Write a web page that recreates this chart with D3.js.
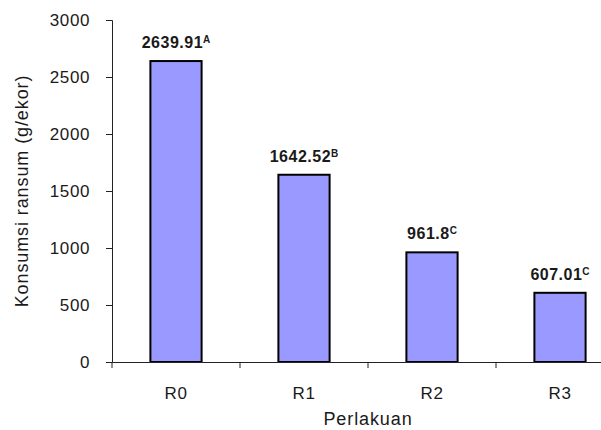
<!DOCTYPE html>
<html>
<head>
<meta charset="utf-8">
<script src="https://cdn.jsdelivr.net/npm/d3@7"></script>
<style>
  html, body { margin: 0; padding: 0; background: #fff; }
  svg { display: block; }
  text { font-family: Arial, "Liberation Sans", sans-serif; fill: #1a1a1a; }
</style>
</head>
<body>
<svg id="chart" width="601" height="430"></svg>
<script>
// Feed consumption per treatment
const categories = ["R0", "R1", "R2", "R3"];
const values = [2639.91, 1642.52, 961.8, 607.01];
const groups = ["A", "B", "C", "C"];
const yTicks = [0, 500, 1000, 1500, 2000, 2500, 3000];

const svg = d3.select("#chart");
const plotLeft = 112, plotBottom = 362, plotTop = 20;

const x = d3.scaleBand()
  .domain(categories)
  .range([plotLeft, plotLeft + 512])
  .paddingInner(0.6)
  .paddingOuter(0.3);

const y = d3.scaleLinear()
  .domain([0, 3000])
  .range([plotBottom, plotTop]);

// bars
svg.append("g").selectAll("rect")
  .data(categories)
  .join("rect")
  .attr("x", d => x(d))
  .attr("y", (d, i) => y(values[i]))
  .attr("width", x.bandwidth())
  .attr("height", (d, i) => y(0) - y(values[i]))
  .attr("fill", "#9999ff")
  .attr("stroke", "#000")
  .attr("stroke-width", 2);

// y axis
const yAxis = svg.append("g")
  .attr("transform", `translate(${plotLeft},0)`)
  .call(d3.axisLeft(y).tickValues(yTicks).tickSize(6).tickPadding(16).tickFormat(d3.format("d")));
yAxis.select(".domain").attr("stroke", "#222");
yAxis.selectAll(".tick line").attr("stroke", "#222");
yAxis.selectAll("text")
  .attr("font-size", 17)
  .attr("letter-spacing", "0.6px")
  .attr("fill", "#1a1a1a");

// x axis: labels centred on the bars, ticks at the category boundaries
const xAxis = svg.append("g")
  .attr("transform", `translate(0,${plotBottom})`)
  .call(d3.axisBottom(x).tickSize(0).tickPadding(25));
xAxis.select(".domain").attr("stroke", "#222");
xAxis.selectAll("text")
  .attr("font-size", 17)
  .attr("letter-spacing", "0.6px")
  .attr("fill", "#1a1a1a");

const half = (x.step() - x.bandwidth()) / 2;
xAxis.selectAll(".bound")
  .data(categories)
  .join("line")
  .attr("class", "bound")
  .attr("x1", d => x(d) - half)
  .attr("x2", d => x(d) - half)
  .attr("y1", 0)
  .attr("y2", 6)
  .attr("stroke", "#222");

// value labels with significance letters
const labels = svg.append("g").selectAll("text")
  .data(categories)
  .join("text")
  .attr("x", d => x(d) + x.bandwidth() / 2)
  .attr("y", (d, i) => y(values[i]) - 13)
  .attr("text-anchor", "middle")
  .attr("font-size", 16)
  .attr("font-weight", "bold")
  .attr("letter-spacing", "0.5px");
labels.append("tspan").text((d, i) => values[i]);
labels.append("tspan")
  .attr("font-size", 10)
  .attr("dy", -5)
  .attr("letter-spacing", "0px")
  .text((d, i) => groups[i]);

// axis titles
svg.append("text")
  .attr("x", plotLeft + 256)
  .attr("y", 425)
  .attr("text-anchor", "middle")
  .attr("font-size", 18)
  .attr("letter-spacing", "0.9px")
  .text("Perlakuan");

svg.append("text")
  .attr("transform", `translate(28,${(plotTop + plotBottom) / 2}) rotate(-90)`)
  .attr("text-anchor", "middle")
  .attr("font-size", 18)
  .attr("letter-spacing", "0.9px")
  .text("Konsumsi ransum (g/ekor)");
</script>
</body>
</html>
